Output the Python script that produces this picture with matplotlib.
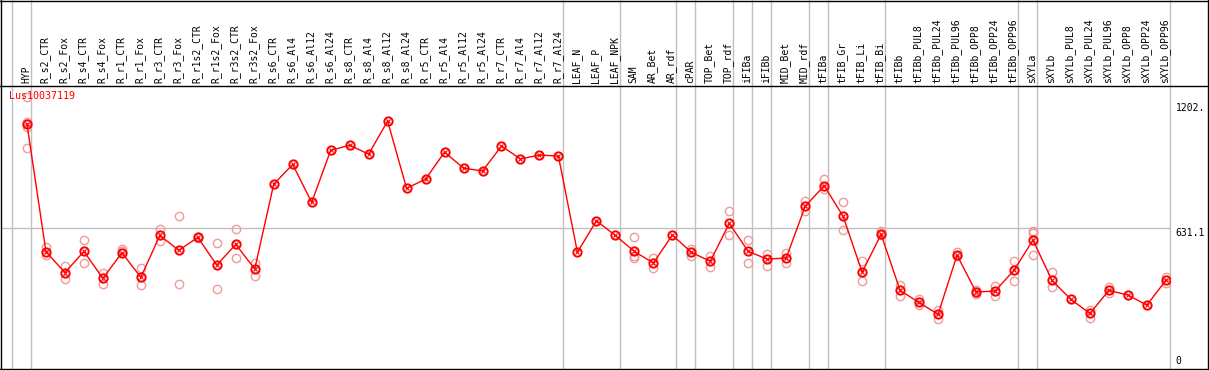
import numpy as np
import matplotlib
matplotlib.use('Agg')
import matplotlib.pyplot as plt
import matplotlib.transforms as mtransforms

# sample names along the x axis
samples = ['HYP',
           'R_s2_CTR', 'R_s2_Fox', 'R_s4_CTR', 'R_s4_Fox', 'R_r1_CTR', 'R_r1_Fox',
           'R_r3_CTR', 'R_r3_Fox', 'R_r1s2_CTR', 'R_r1s2_Fox', 'R_r3s2_CTR', 'R_r3s2_Fox',
           'R_s6_CTR', 'R_s6_Al4', 'R_s6_Al12', 'R_s6_Al24',
           'R_s8_CTR', 'R_s8_Al4', 'R_s8_Al12', 'R_s8_Al24',
           'R_r5_CTR', 'R_r5_Al4', 'R_r5_Al12', 'R_r5_Al24',
           'R_r7_CTR', 'R_r7_Al4', 'R_r7_Al12', 'R_r7_Al24',
           'LEAF_N', 'LEAF_P', 'LEAF_NPK',
           'SAM', 'AR_Bet', 'AR_rdf', 'cPAR', 'TOP_Bet', 'TOP_rdf',
           'iFIBa', 'iFIBb', 'MID_Bet', 'MID_rdf',
           'tFIBa', 'tFIB_Gr', 'tFIB_Li', 'tFIB_Bi',
           'tFIBb', 'tFIBb_PUL8', 'tFIBb_PUL24', 'tFIBb_PUL96',
           'tFIBb_OPP8', 'tFIBb_OPP24', 'tFIBb_OPP96',
           'sXYLa', 'sXYLb', 'sXYLb_PUL8', 'sXYLb_PUL24', 'sXYLb_PUL96',
           'sXYLb_OPP8', 'sXYLb_OPP24', 'sXYLb_OPP96']

# mean expression per sample
means = [1104,
         522, 426, 523, 400, 517, 405, 596, 528, 587, 461, 555, 443,
         830, 920, 747, 984, 1008, 967, 1118, 811,
         853, 976, 903, 890, 1004, 945, 963, 958,
         519, 663, 596,
         523, 470, 598, 519, 478, 651,
         523, 488, 493, 729,
         823, 683, 428, 601,
         345, 290, 236, 506, 338, 342, 437,
         575, 391, 304, 240, 345, 324, 278, 391]

# individual replicates (only where they show apart from the mean)
replicates = [[1228, 1113, 1091, 995],
              [541, 506], [456, 396], [575, 468], [426, 374], [532, 523], [446, 368],
              [627, 572], [684, 374], [590, 584], [563, 351], [625, 491], [469, 412],
              [], [], [], [], [], [], [], [],
              [], [], [], [], [], [], [], [],
              [], [], [],
              [589, 502, 491], [494, 446], [], [535, 503], [503, 453], [707, 596],
              [573, 470], [511, 458], [514, 468], [753, 709],
              [852, 808], [750, 621], [478, 388], [616, 596],
              [370, 321], [306, 278], [256, 214], [519, 500], [347, 330], [366, 318], [481, 388],
              [616, 605, 508], [429, 359], [], [256, 220], [362, 332], [], [], [407, 380]]

# group separators: index of the last sample in each group
group_ends = [-1, 0, 28, 31, 34, 35, 37, 38, 39, 41, 42, 45, 52, 53, 60]

gene = 'Lus10037119'
ytick_vals = [0, 631.1, 1202]
ytick_text = ['0', '631.1', '1202.']

W, H = 1209, 370
fig = plt.figure(figsize=(W / 100, H / 100), dpi=100)
ax = fig.add_axes([1 / W, 2 / H, 1169 / W, 282 / H])
mono = 'DejaVu Sans Mono'
grey = '#c0c0c0'

x = np.arange(len(samples))

# replicates behind
for i, reps in enumerate(replicates):
    if reps:
        ax.plot([i] * len(reps), reps, 'o', ms=6, mfc='none', mec='#f09a9a', mew=1.0, zorder=3)

# mean line
ax.plot(x, means, '-', color='red', lw=1, zorder=4)
ax.plot(x, means, 'o', ms=6, mfc='none', mec='red', mew=1.4, zorder=5)
ax.plot(x, means, 'x', ms=2.5, mec='red', mew=0.8, zorder=5)

ax.set_xlim(-1.368, 60.22)
ax.set_ylim(-9, 1278)

# grey guides
ax.axhline(631.1, color=grey, lw=1, zorder=1)
for g in group_ends:
    ax.axvline(g + 0.22, ymin=0, ymax=368 / 282, color=grey, lw=1, clip_on=False, zorder=1)

# sample labels in the header
trans = mtransforms.blended_transform_factory(ax.transData, ax.transAxes)
for i, name in enumerate(samples):
    ax.text(i - 0.05, 1.012, name, transform=trans, rotation=90, ha='center', va='bottom',
            fontsize=7, family=mono, color='black')

# value labels on the right
trans_y = mtransforms.blended_transform_factory(ax.transAxes, ax.transData)
for v, t in zip(ytick_vals, ytick_text):
    ax.text(1.005, v, t, transform=trans_y, ha='left', va='bottom' if v == 0 else 'top',
            fontsize=7, family=mono, color='black', clip_on=False)

ax.text(8 / 1169, 1 - 5 / 282, gene, transform=ax.transAxes, ha='left', va='top',
        fontsize=7.2, family=mono, color='red', zorder=6)

ax.set_xticks([])
ax.set_yticks([])
for s in ax.spines.values():
    s.set_visible(False)

# outer frame and header separator
frame_lines = [([0.5 / W, 0.5 / W], [0, 1]),
               ([1207.5 / W, 1207.5 / W], [0, 1]),
               ([0, 1], [1 - 0.5 / H, 1 - 0.5 / H]),
               ([0, 1], [1 - 368.5 / H, 1 - 368.5 / H]),
               ([0, 1], [1 - 86 / H, 1 - 86 / H])]
for xs, ys in frame_lines:
    fig.add_artist(plt.Line2D(xs, ys, color='black', lw=1.0, transform=fig.transFigure))

fig.savefig('out.png', dpi=100)
